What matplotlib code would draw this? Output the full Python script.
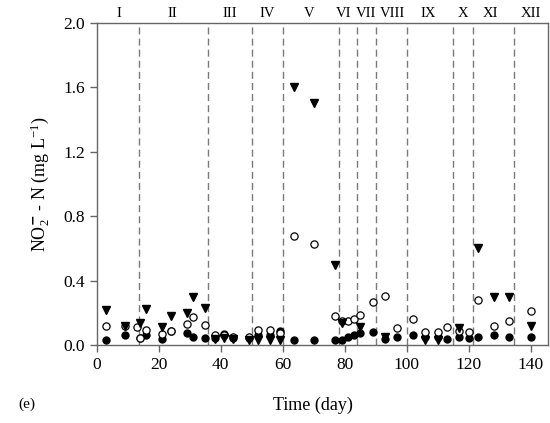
import matplotlib
matplotlib.use("Agg")
import matplotlib.pyplot as plt
from matplotlib.transforms import blended_transform_factory

plt.rcParams['font.family'] = ['Liberation Serif', 'DejaVu Serif']
plt.rcParams['mathtext.fontset'] = 'custom'
plt.rcParams['mathtext.rm'] = 'Liberation Serif'
plt.rcParams['mathtext.it'] = 'Liberation Serif:italic'

# data
filled_days = [3, 9, 14, 16, 21, 24, 29, 31, 35, 38, 41, 44, 49, 52, 56, 59, 63.5, 70,
               77, 79, 81, 83, 85, 89, 93, 97, 102, 106, 110, 113, 117, 120, 123, 128, 133, 140]
filled_vals = [0.03, 0.065, 0.042, 0.063, 0.037, 0.088, 0.073, 0.052, 0.044, 0.045, 0.072, 0.046,
               0.045, 0.06, 0.065, 0.09, 0.03, 0.03, 0.03, 0.035, 0.05, 0.065, 0.077, 0.083, 0.04,
               0.05, 0.06, 0.05, 0.05, 0.038, 0.05, 0.042, 0.05, 0.063, 0.05, 0.05]

open_days = [3, 9, 13, 14, 16, 21, 24, 29, 31, 35, 38, 41, 44, 49, 52, 56, 59, 63.5, 70,
             77, 79, 81, 83, 85, 89, 93, 97, 102, 106, 110, 113, 117, 120, 123, 128, 133, 140]
open_vals = [0.12, 0.12, 0.11, 0.045, 0.094, 0.07, 0.088, 0.13, 0.175, 0.125, 0.065, 0.065, 0.05,
             0.05, 0.092, 0.092, 0.075, 0.68, 0.625, 0.18, 0.15, 0.15, 0.16, 0.19, 0.265, 0.305,
             0.104, 0.16, 0.083, 0.083, 0.11, 0.09, 0.08, 0.28, 0.12, 0.15, 0.21]

tri_days = [3, 9, 14, 16, 21, 24, 29, 31, 35, 38, 41, 44, 49, 52, 56, 59, 63.5, 70,
            77, 79, 85, 93, 106, 110, 117, 123, 128, 133, 140]
tri_vals = [0.22, 0.12, 0.14, 0.225, 0.115, 0.18, 0.2, 0.3, 0.23, 0.04, 0.045, 0.04, 0.035,
            0.035, 0.035, 0.03, 1.6, 1.5, 0.5, 0.14, 0.115, 0.05, 0.03, 0.03, 0.105, 0.6, 0.3,
            0.3, 0.12]

phase_bounds = [13.5, 36, 50, 60, 78, 84, 90, 100, 115, 121.5, 134.5]
phase_labels = ['I', 'II', 'III', 'IV', 'V', 'VI', 'VII', 'VIII', 'IX', 'X', 'XI', 'XII']
phase_label_pos = [7, 24.5, 43, 55, 68.5, 79.5, 87, 95.5, 107, 118, 127, 140]

fig = plt.figure(figsize=(5.5, 4.23), dpi=100)
ax = fig.add_axes([0.176, 0.184, 0.82, 0.762])

for b in phase_bounds:
    ax.axvline(b, color='#7a7a7a', lw=1.0, ls=(0, (5, 3)), zorder=1)

ax.plot(filled_days, filled_vals, 'o', color='black', ms=5.0, zorder=3, ls='none')
ax.plot(open_days, open_vals, 'o', mfc='white', mec='black', mew=0.9, ms=5.2, zorder=4, ls='none')
ax.plot(tri_days, tri_vals, 'v', color='black', ms=5.2, zorder=5, ls='none')

ax.set_xlim(0, 145.5)
ax.set_ylim(0, 2.0)
ax.set_xticks(range(0, 141, 20))
ax.set_yticks([0.0, 0.4, 0.8, 1.2, 1.6, 2.0])
ax.set_yticklabels(['0.0', '0.4', '0.8', '1.2', '1.6', '2.0'])
ax.tick_params(axis='both', direction='out', length=5, width=1, colors='black',
               labelsize=12.5, top=False, right=False)
ax.tick_params(axis='both', color='#666666')
for s in ax.spines.values():
    s.set_color('#666666')
    s.set_linewidth(1.0)

trans = blended_transform_factory(ax.transData, ax.transAxes)
for lab, xp in zip(phase_labels, phase_label_pos):
    ax.text(xp, 1.008, lab, transform=trans, ha='center', va='bottom', fontsize=10.5)

ax.set_xlabel('Time (day)', fontsize=13, va='center')
ax.xaxis.set_label_coords(0.479, -0.186)
ax.set_ylabel(r'NO$_2^{\mathbf{-}}$ - N (mg L$^{-1}$)', fontsize=13, labelpad=8)
fig.text(0.033, 0.035, '(e)', fontsize=11)

fig.savefig('out.png', dpi=100)
